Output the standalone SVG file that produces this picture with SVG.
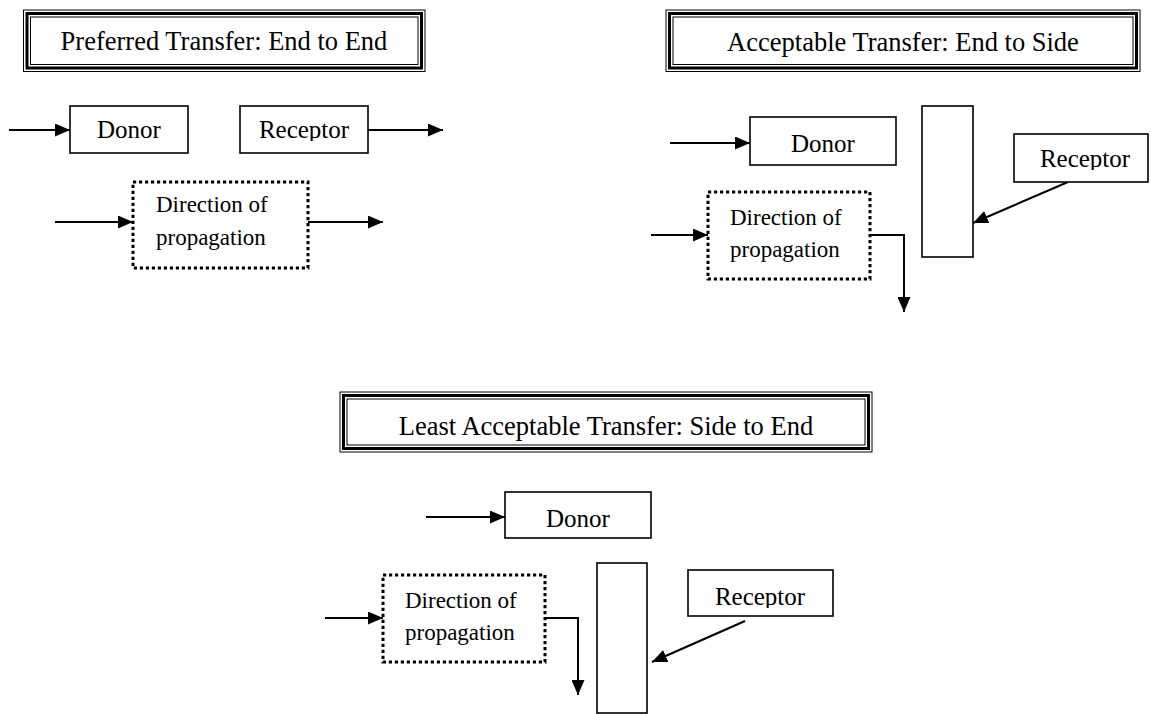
<svg xmlns="http://www.w3.org/2000/svg" width="1151" height="714" viewBox="0 0 1151 714">
  <style>
    .t { font-family: "Liberation Serif", "DejaVu Serif", "Noto Serif", serif; fill: #000; }
    .title { font-size: 26.5px; text-anchor: middle; }
    .lbl { font-size: 25px; text-anchor: middle; }
    .dir { font-size: 23px; }
    .box { fill: #fff; stroke: #000; stroke-width: 1.6; }
    .dot { fill: #fff; stroke: #000; stroke-width: 3; stroke-dasharray: 3.2 2.8; }
    .thin { fill: none; stroke: #000; stroke-width: 1; }
    .thick { fill: none; stroke: #000; stroke-width: 3; }
    .conn { fill: none; stroke: #000; stroke-width: 2; marker-end: url(#ah); }
  </style>
  <defs>
    <marker id="ah" markerUnits="userSpaceOnUse" markerWidth="15" markerHeight="13" refX="15" refY="6.5" orient="auto">
      <path d="M0,0 L15,6.5 L0,13 z" fill="#000"/>
    </marker>
    <clipPath id="c1"><rect x="241" y="107" width="126" height="34"/></clipPath>
    <clipPath id="c2"><rect x="1015" y="135" width="132" height="35"/></clipPath>
    <clipPath id="c3"><rect x="689" y="571" width="143" height="37"/></clipPath>
  </defs>
  <rect width="1151" height="714" fill="#fff"/>

  <g id="title1">
    <rect class="thin" x="23.5" y="10" width="401.5" height="61.5"/>
    <rect class="thick" x="27" y="13.5" width="394.5" height="54.5"/>
    <rect class="thin" x="30.5" y="17" width="387.5" height="47.5"/>
    <text class="t title" x="224" y="50">Preferred Transfer: End to End</text>
  </g>
  <g id="title2">
    <rect class="thin" x="666" y="10" width="474" height="61.5"/>
    <rect class="thick" x="669.5" y="13.5" width="467" height="54.5"/>
    <rect class="thin" x="673" y="17" width="460" height="47.5"/>
    <text class="t title" x="903" y="51">Acceptable Transfer: End to Side</text>
  </g>
  <g id="title3">
    <rect class="thin" x="340" y="392" width="532" height="60"/>
    <rect class="thick" x="343.5" y="395.5" width="525" height="53"/>
    <rect class="thin" x="347" y="399" width="518" height="46"/>
    <text class="t title" x="606" y="435">Least Acceptable Transfer: Side to End</text>
  </g>

  <g id="connectors">
    <line class="conn" x1="9" y1="130" x2="70" y2="130"/>
    <line class="conn" x1="368" y1="130" x2="443" y2="130"/>
    <line class="conn" x1="55" y1="222" x2="133" y2="222"/>
    <line class="conn" x1="308" y1="222" x2="383" y2="222"/>

    <line class="conn" x1="670" y1="143" x2="750" y2="143"/>
    <line class="conn" x1="651" y1="235" x2="708" y2="235"/>
    <polyline class="conn" points="870,235 904,235 904,312"/>
    <line class="conn" x1="1068" y1="182" x2="973" y2="223"/>

    <line class="conn" x1="426" y1="517" x2="505" y2="517"/>
    <line class="conn" x1="325" y1="618" x2="383" y2="618"/>
    <polyline class="conn" points="545,618 578,618 578,695"/>
    <line class="conn" x1="745" y1="621" x2="652" y2="662"/>
  </g>

  <g id="donor1">
    <rect class="box" x="70" y="106" width="118" height="47"/>
    <text class="t lbl" x="129" y="138">Donor</text>
  </g>
  <g id="receptor1">
    <rect class="box" x="240" y="106" width="128" height="47"/>
    <text class="t lbl" x="304" y="138" clip-path="url(#c1)">Receptor</text>
  </g>
  <g id="direction1">
    <rect class="dot" x="133" y="182" width="175" height="86"/>
    <text class="t dir" x="156" y="212">Direction of</text>
    <text class="t dir" x="156" y="245">propagation</text>
  </g>

  <g id="donor2">
    <rect class="box" x="750" y="117" width="146" height="48"/>
    <text class="t lbl" x="823" y="152">Donor</text>
  </g>
  <g id="side2">
    <rect class="box" x="922" y="106" width="51" height="151"/>
  </g>
  <g id="receptor2">
    <rect class="box" x="1014" y="134" width="134" height="48"/>
    <text class="t lbl" x="1085" y="167" clip-path="url(#c2)">Receptor</text>
  </g>
  <g id="direction2">
    <rect class="dot" x="708" y="192" width="162" height="87"/>
    <text class="t dir" x="730" y="225">Direction of</text>
    <text class="t dir" x="730" y="257">propagation</text>
  </g>

  <g id="donor3">
    <rect class="box" x="505" y="492" width="146" height="46"/>
    <text class="t lbl" x="578" y="527">Donor</text>
  </g>
  <g id="direction3">
    <rect class="dot" x="383" y="575" width="162" height="87"/>
    <text class="t dir" x="405" y="608">Direction of</text>
    <text class="t dir" x="405" y="640">propagation</text>
  </g>
  <g id="side3">
    <rect class="box" x="597" y="563" width="50" height="150"/>
  </g>
  <g id="receptor3">
    <rect class="box" x="688" y="570" width="145" height="46"/>
    <text class="t lbl" x="760" y="605" clip-path="url(#c3)">Receptor</text>
  </g>
</svg>
